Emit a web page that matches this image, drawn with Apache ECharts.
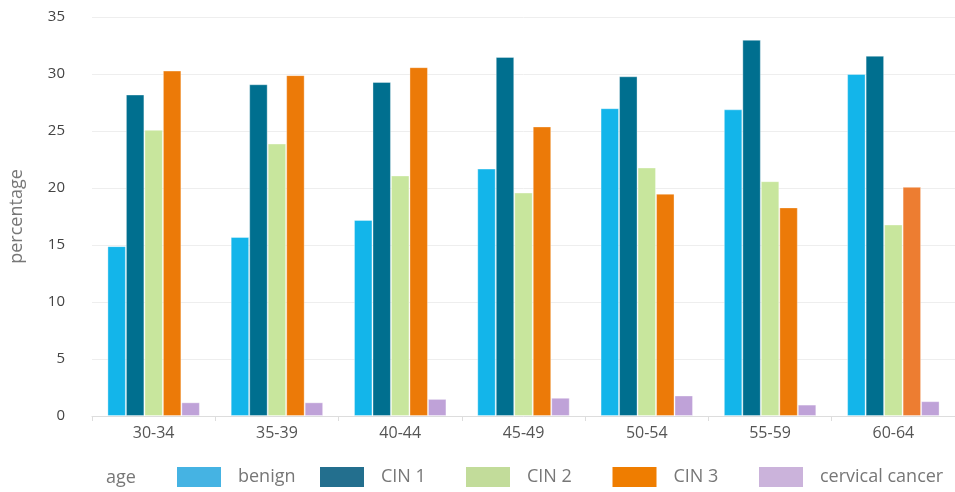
<!DOCTYPE html>
<html><head><meta charset="utf-8">
<script src="https://cdn.jsdelivr.net/npm/echarts@6/dist/echarts.min.js"></script>
<style>html,body{margin:0;padding:0;background:#fff}#c{width:955px;height:492px}</style>
</head><body><div id="c"></div>
<script>
const categories = ['30-34','35-39','40-44','45-49','50-54','55-59','60-64'];
const seriesNames = ['benign','CIN 1','CIN 2','CIN 3','cervical cancer'];
const benign = [14.9, 15.7, 17.2, 21.7, 27.0, 26.9, 30.0];
const cin1 = [28.2, 29.1, 29.3, 31.5, 29.8, 33.0, 31.6];
const cin2 = [25.1, 23.9, 21.1, 19.6, 21.8, 20.6, 16.8];
const cin3 = [30.3, 29.9, 30.6, 25.4, 19.5, 18.3, 20.1];
const cervical = [1.2, 1.2, 1.5, 1.6, 1.8, 1.0, 1.3];
const yTicks = [0, 5, 10, 15, 20, 25, 30, 35];

const barColors = ['#13B5EA','#006F8F','#C8E69D','#EC7A08','#BFA2D8'];
const legendColors = ['#45B3E3','#236F8E','#C2DC9A','#EF7D00','#CBB3DB'];
const legendLefts = [177, 320, 466, 612.5, 759];
const values = [benign, cin1, cin2, cin3, cervical];
const FONT = '"Open Sans", Lato, sans-serif';

const chart = echarts.init(document.getElementById('c'), null, {renderer:'canvas'});
const series = seriesNames.map((n, i) => ({
  name: n, type: 'bar', barGap: '0%', barCategoryGap: '25%',
  itemStyle: {color: barColors[i], borderColor: 'rgba(255,255,255,0.35)', borderWidth: 1},
  data: values[i].map((v, j) => (i === 3 && j === 6) ? {value: v, itemStyle: {color: '#ED7D31'}} : v),
  animation: false
}));
chart.setOption({
  animation: false,
  grid: {left: 92, right: -9, top: 17, bottom: 76, containLabel: false},
  graphic: [{type:'text', left: 106, top: 469, style: {text: 'age', font: '18px ' + FONT, fill: '#777'}}],
  legend: seriesNames.map((n, i) => ({
    left: legendLefts[i], top: 467, padding: 0, itemWidth: 44, itemHeight: 20, icon: 'rect',
    textStyle: {fontFamily: FONT, fontSize: 18, color: '#777', padding: [0, 0, 0, 12]},
    data: [{name: n, itemStyle: {color: legendColors[i], borderWidth: 0}}]
  })),
  xAxis: {
    type: 'category', data: categories,
    axisLine: {lineStyle: {color: '#ddd'}},
    axisTick: {show: true, length: 5, lineStyle: {color: '#ddd'}},
    axisLabel: {fontFamily: FONT, fontSize: 16, color: '#555', margin: 9}
  },
  yAxis: {
    type: 'value', min: yTicks[0], max: yTicks[yTicks.length - 1], interval: 5,
    name: 'percentage', nameLocation: 'middle', nameGap: 66,
    nameTextStyle: {fontFamily: FONT, fontSize: 18, color: '#777'},
    axisLine: {show: false}, axisTick: {show: false},
    splitLine: {lineStyle: {color: '#eee', width: 1}},
    axisLabel: {fontFamily: FONT, fontSize: 15, color: '#444', margin: 27}
  },
  series: series
});
</script></body></html>
